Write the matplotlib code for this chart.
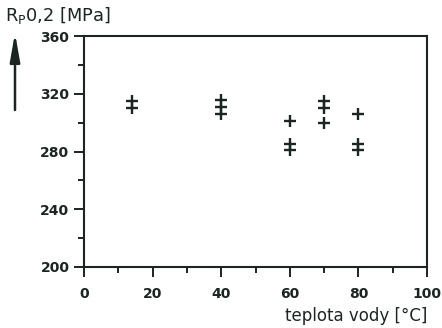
import matplotlib
matplotlib.use("Agg")
import matplotlib.pyplot as plt
from matplotlib.ticker import MultipleLocator

# Data (water temperature [°C] vs Rp0.2 [MPa])
temp = [14, 14, 40, 40, 40, 60, 60, 60, 70, 70, 70, 80, 80, 80]
rp02 = [315, 310, 316, 311, 306, 301, 285, 281, 315, 310, 300, 306, 285, 281]

x_ticks = [0, 20, 40, 60, 80, 100]
y_ticks = [200, 240, 280, 320, 360]

ink = "#1b2620"
plt.rcParams["font.family"] = ["DejaVu Sans"]
plt.rcParams["mathtext.fontset"] = "dejavusans"

fig = plt.figure(figsize=(4.42, 3.28), dpi=100)
ax = fig.add_axes([84 / 442, 1 - 267 / 328, (427 - 84) / 442, (267 - 36) / 328])

ax.plot(temp, rp02, linestyle="none", marker="+", markersize=8,
        markeredgewidth=1.7, color=ink)

ax.set_xlim(0, 100)
ax.set_ylim(200, 360)
ax.set_xticks(x_ticks)
ax.set_yticks(y_ticks)
ax.xaxis.set_minor_locator(MultipleLocator(10))
ax.yaxis.set_minor_locator(MultipleLocator(20))

for s in ax.spines.values():
    s.set_linewidth(1.5)
    s.set_color(ink)

ax.tick_params(which="major", direction="out", length=7.5, width=1.4,
               color=ink, labelcolor=ink, labelsize=10)
ax.tick_params(which="minor", direction="out", length=4.5, width=1.4, color=ink)
ax.tick_params(axis="x", which="major", pad=7)
ax.tick_params(axis="y", which="major", pad=3)
for lab in ax.get_xticklabels() + ax.get_yticklabels():
    lab.set_fontweight("bold")

# Y label with arrow
fig.text(5 / 442, 1 - 15 / 328, r"R$_{\mathrm{P}}$0,2 [MPa]", fontsize=12.8,
         color=ink, ha="left", va="center")
fig.add_artist(matplotlib.patches.FancyArrowPatch(
    (15 / 442, 1 - 110 / 328), (15 / 442, 1 - 33 / 328),
    transform=fig.transFigure, arrowstyle="-|>,head_length=17,head_width=3",
    linewidth=1.8, color=ink, mutation_scale=1, shrinkA=0, shrinkB=0))

# X label
fig.text(427 / 442, 1 - 316 / 328, "teplota vody [°C]", fontsize=12,
         color=ink, ha="right", va="center")

fig.savefig("out.png", dpi=100)
